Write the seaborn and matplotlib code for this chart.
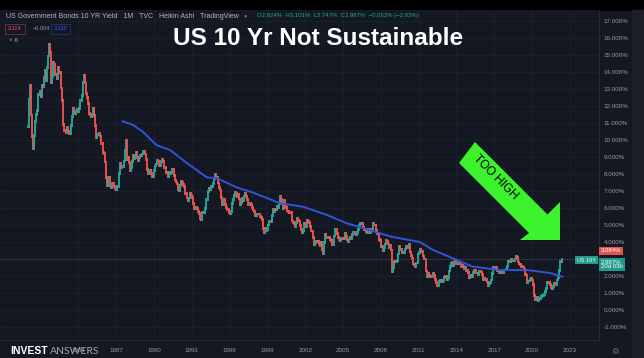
import matplotlib
matplotlib.use("Agg")
import matplotlib.pyplot as plt
from matplotlib.patches import Polygon, Rectangle
import seaborn as sns
import numpy as np
import pandas as pd

# monthly US 10Y yield (%), Jan 1980 onwards
y1980s = [10.80, 12.41, 13.20, 11.47, 10.18, 9.50, 10.25, 11.10, 11.51, 11.75, 12.68, 12.84,
          12.57, 13.19, 13.12, 13.68, 14.10, 13.47, 14.28, 14.94, 15.60, 15.15, 13.39, 13.72,
          14.59, 14.43, 13.86, 13.87, 13.62, 14.30, 13.95, 13.06, 12.34, 10.91, 10.55, 10.54,
          10.46, 10.72, 10.51, 10.40, 10.38, 10.85, 11.38, 11.85, 11.65, 11.54, 11.69, 11.83,
          11.67, 11.84, 12.32, 12.63, 13.41, 13.80, 13.36, 12.72, 12.52, 12.16, 11.57, 11.50,
          11.38, 11.51, 11.86, 11.43, 10.85, 10.16, 10.31, 10.33, 10.37, 10.24, 9.78, 9.26,
          9.19, 8.70, 7.78, 7.30, 7.71, 7.80, 7.30, 7.17, 7.45, 7.43, 7.25, 7.11,
          7.08, 7.25, 7.25, 8.02, 8.61, 8.40, 8.45, 8.76, 9.42, 10.00, 8.86, 8.99,
          8.67, 8.21, 8.37, 8.72, 9.09, 8.92, 9.06, 9.26, 8.98, 8.80, 8.96, 9.11,
          9.09, 9.17, 9.36, 9.18, 8.86, 8.28, 8.02, 8.11, 8.19, 8.01, 7.87, 7.84]
y1990s = [8.21, 8.47, 8.59, 8.79, 8.76, 8.48, 8.47, 8.75, 8.89, 8.72, 8.39, 8.08,
          8.09, 7.85, 8.11, 8.04, 8.07, 8.28, 8.27, 7.90, 7.65, 7.53, 7.42, 7.09,
          7.03, 7.34, 7.54, 7.48, 7.39, 7.26, 6.84, 6.59, 6.42, 6.59, 6.87, 6.77,
          6.60, 6.26, 5.98, 5.97, 6.04, 5.96, 5.81, 5.68, 5.36, 5.33, 5.72, 5.77,
          5.75, 5.97, 6.48, 6.97, 7.18, 7.10, 7.30, 7.24, 7.46, 7.74, 7.96, 7.81,
          7.78, 7.47, 7.20, 7.06, 6.63, 6.17, 6.28, 6.49, 6.20, 6.04, 5.93, 5.71,
          5.65, 5.81, 6.27, 6.51, 6.74, 6.91, 6.87, 6.64, 6.83, 6.53, 6.20, 6.30,
          6.58, 6.42, 6.69, 6.89, 6.71, 6.49, 6.22, 6.30, 6.21, 6.03, 5.88, 5.81,
          5.54, 5.57, 5.65, 5.64, 5.65, 5.50, 5.46, 5.34, 4.81, 4.53, 4.83, 4.65,
          4.72, 5.00, 5.23, 5.18, 5.54, 5.90, 5.79, 5.94, 5.92, 6.11, 6.03, 6.28]
y2000s = [6.66, 6.52, 6.26, 5.99, 6.44, 6.10, 6.05, 5.83, 5.80, 5.74, 5.72, 5.24,
          5.16, 5.10, 4.89, 5.14, 5.39, 5.28, 5.24, 4.97, 4.73, 4.57, 4.65, 5.09,
          5.04, 4.91, 5.28, 5.21, 5.16, 4.93, 4.65, 4.26, 3.87, 3.94, 4.05, 4.03,
          4.05, 3.90, 3.81, 3.96, 3.57, 3.33, 3.98, 4.45, 4.27, 4.29, 4.30, 4.27,
          4.15, 4.08, 3.83, 4.35, 4.72, 4.73, 4.50, 4.28, 4.13, 4.10, 4.19, 4.23,
          4.22, 4.17, 4.50, 4.34, 4.14, 4.00, 4.18, 4.26, 4.20, 4.46, 4.54, 4.47,
          4.42, 4.57, 4.72, 4.99, 5.11, 5.11, 5.09, 4.88, 4.72, 4.73, 4.60, 4.56,
          4.76, 4.72, 4.56, 4.69, 4.75, 5.10, 5.00, 4.67, 4.52, 4.53, 4.15, 4.10,
          3.74, 3.74, 3.51, 3.68, 3.88, 4.10, 4.01, 3.89, 3.69, 3.81, 3.53, 2.25,
          2.52, 2.87, 2.82, 2.93, 3.29, 3.72, 3.56, 3.59, 3.40, 3.39, 3.40, 3.59]
y2010s = [3.73, 3.69, 3.73, 3.85, 3.42, 3.20, 3.01, 2.70, 2.65, 2.54, 2.76, 3.29,
          3.39, 3.58, 3.41, 3.46, 3.17, 3.00, 3.00, 2.30, 1.98, 2.15, 2.01, 1.98,
          1.97, 1.97, 2.17, 2.05, 1.80, 1.62, 1.45, 1.68, 1.72, 1.75, 1.65, 1.72,
          1.91, 1.98, 1.96, 1.76, 1.93, 2.30, 2.58, 2.74, 2.81, 2.62, 2.72, 2.90,
          2.86, 2.71, 2.72, 2.71, 2.56, 2.60, 2.54, 2.42, 2.53, 2.30, 2.33, 2.21,
          1.88, 1.98, 2.04, 1.94, 2.20, 2.36, 2.32, 2.17, 2.17, 2.07, 2.26, 2.24,
          2.09, 1.78, 1.89, 1.81, 1.81, 1.64, 1.42, 1.56, 1.63, 1.76, 2.14, 2.49,
          2.43, 2.42, 2.48, 2.30, 2.30, 2.19, 2.32, 2.21, 2.20, 2.36, 2.35, 2.40,
          2.58, 2.86, 2.84, 2.87, 2.98, 2.91, 2.89, 2.89, 3.00, 3.15, 3.12, 2.83,
          2.71, 2.68, 2.57, 2.53, 2.40, 2.07, 2.06, 1.63, 1.70, 1.71, 1.81, 1.86]
y2020s = [1.76, 1.50, 0.87, 0.60, 0.67, 0.73, 0.55, 0.65, 0.68, 0.79, 0.87, 0.93,
          1.08, 1.26, 1.61, 1.64, 1.62, 1.52, 1.32, 1.28, 1.37, 1.58, 1.56, 1.47,
          1.76, 1.93, 2.32, 2.89, 2.85, 2.987]

# blue moving average, read at a few points
ma_years = [1987.5, 1988.3, 1989.1, 1990.2, 1991.3, 1992.6, 1994.2, 1995.0, 1996.6, 1997.9,
            1998.4, 2000.0, 2001.8, 2003.7, 2005.3, 2007.1, 2008.9, 2011.1, 2012.1, 2013.7,
            2015.3, 2017.5, 2019.6, 2021.4, 2022.45]
ma_values = [11.1, 10.9, 10.5, 9.7, 9.4, 8.65, 7.8, 7.75, 7.2, 6.9,
             6.75, 6.28, 6.08, 5.6, 5.1, 4.7, 4.3, 4.0, 3.55, 3.05,
             2.55, 2.35, 2.35, 2.18, 1.95]

ytick_vals = list(range(-1, 18))
xtick_years = list(range(1984, 2024, 3))
last_close = 2.987

BG = '#141823'
GREEN = '#26a69a'
RED = '#ef5350'

sns.set_theme(style="dark")
plt.rcParams['font.family'] = ['Liberation Sans', 'DejaVu Sans']

closes = y1980s + y1990s + y2000s + y2010s + y2020s
df = pd.DataFrame({'close': closes})
df['t'] = 1980 + np.arange(len(df)) / 12
df['open'] = df['close'].shift(1).fillna(df['close'])
df['up'] = df['close'] >= df['open']

W, H = 644, 358
def fx(px):
    return px / W
def fy(py):
    return 1 - py / H

fig = plt.figure(figsize=(6.44, 3.58), dpi=100, facecolor=BG)
ax = fig.add_axes([0, fy(340), fx(599), (340 - 10) / H], facecolor=BG)

# candles (open -> close), wide enough that neighbours touch
cols = np.where(df['up'], GREEN, RED)
ax.vlines(df['t'], df[['open', 'close']].min(axis=1) - 0.08, df[['open', 'close']].max(axis=1) + 0.08,
          colors=cols, linewidth=1.35)

# moving average
sns.lineplot(x=ma_years, y=ma_values, ax=ax, color='#2f55d4', linewidth=1.4)

# last price line
ax.axhline(last_close, color='#5a5f6e', linewidth=0.6, linestyle=(0, (1, 1.5)))

ax.set_xlim(1977.78, 2025.32)
ax.set_ylim(17 - (340 - 21) / 17, 17 + (21 - 10) / 17)

# the 3% label sits behind the price boxes on the scale
ax.yaxis.tick_right()
ax.set_yticks(ytick_vals)
ax.set_yticklabels(["" if v == 3 else f"{v:.3f}%" for v in ytick_vals])
ax.set_xticks(xtick_years)
ax.set_xticklabels([str(y) for y in xtick_years])
ax.tick_params(axis='y', length=0, pad=3.5, labelsize=4.5, labelcolor='#9598a1')
ax.tick_params(axis='x', length=0, pad=6, labelsize=4.5, labelcolor='#9598a1')
ax.grid(True, color='#1d212c', linewidth=0.6)
for s in ['top', 'left']:
    ax.spines[s].set_visible(False)
for s in ['bottom', 'right']:
    ax.spines[s].set_color('#262a35')
    ax.spines[s].set_linewidth(0.8)

# top black band and right strip
fig.add_artist(Rectangle((0, fy(10)), 1, 10 / H, transform=fig.transFigure, color='black', zorder=0))
fig.add_artist(Rectangle((fx(632), 0), 12 / W, fy(10), transform=fig.transFigure, color='#1e2027', zorder=0))

# header
fig.text(fx(6), fy(16), "US Government Bonds 10 YR Yield   1M   TVC   Heikin Ashi   TradingView",
         fontsize=5, color='#b2b5be', va='center')
fig.text(fx(245), fy(16), "●", fontsize=4, color='#787b86', va='center', ha='center')
fig.text(fx(257), fy(16), "O2.824%  H3.101%  L2.747%  C2.987%  \u22120.062% (\u22122.03%)",
         fontsize=4.3, color=GREEN, va='center')
fig.text(fx(8), fy(29), "3.114", fontsize=4, color=RED, va='center',
         bbox=dict(boxstyle='square,pad=0.5', fc='none', ec='#7a2f33', lw=0.6))
fig.text(fx(33), fy(29), "\u22120.004", fontsize=4, color='#9598a1', va='center')
fig.text(fx(54), fy(29), "3.110", fontsize=4, color='#2962ff', va='center',
         bbox=dict(boxstyle='square,pad=0.5', fc='none', ec='#22366e', lw=0.6))
fig.text(fx(9), fy(41), "\u02c5 6", fontsize=4.5, color='#b2b5be', va='center')

# title
fig.text(fx(318), fy(45), "US 10 Yr Not Sustainable", fontsize=17.5, fontweight='bold',
         color='white', ha='center', va='baseline')

# green arrow
arrow_px = [(475, 142), (547.5, 214.5), (560, 202), (560, 240), (520, 240), (529, 233), (459, 163)]
fig.add_artist(Polygon([(fx(x), fy(y)) for x, y in arrow_px], closed=True,
                       transform=fig.transFigure, fc='#3cf22c', ec='none', zorder=5))
fig.text(fx(495), fy(177), "TOO HIGH", fontsize=8.5, color='black', rotation=-45,
         rotation_mode='anchor', ha='center', va='center', zorder=6)

# price labels on the scale
fig.text(fx(601), fy(251), "3.084%", fontsize=4.3, color='white', va='center',
         bbox=dict(boxstyle='square,pad=0.3', fc='#e0534f', ec='none'))
fig.text(fx(577), fy(260), "US 10Y", fontsize=4, color='white', va='center',
         bbox=dict(boxstyle='square,pad=0.3', fc='#229b8c', ec='none'))
fig.text(fx(601), fy(264.5), "2.987%\n20d 03h", fontsize=4.3, color='white', va='center',
         linespacing=1.0, bbox=dict(boxstyle='square,pad=0.3', fc='#229b8c', ec='none'))

# bottom logo and gear
fig.text(fx(10), fy(351), "INVEST", fontsize=7.5, fontweight='bold', color='white', va='center')
fig.text(fx(50), fy(351), "ANSWERS", fontsize=7.5, color='#a4a7b0', va='center',
         family=['Lato', 'DejaVu Sans'])
fig.text(fx(615), fy(351), "\u2699", fontsize=6, color='#787b86', va='center', ha='center',
         family=['DejaVu Sans'])

fig.savefig('out.png', dpi=100, facecolor=BG)
